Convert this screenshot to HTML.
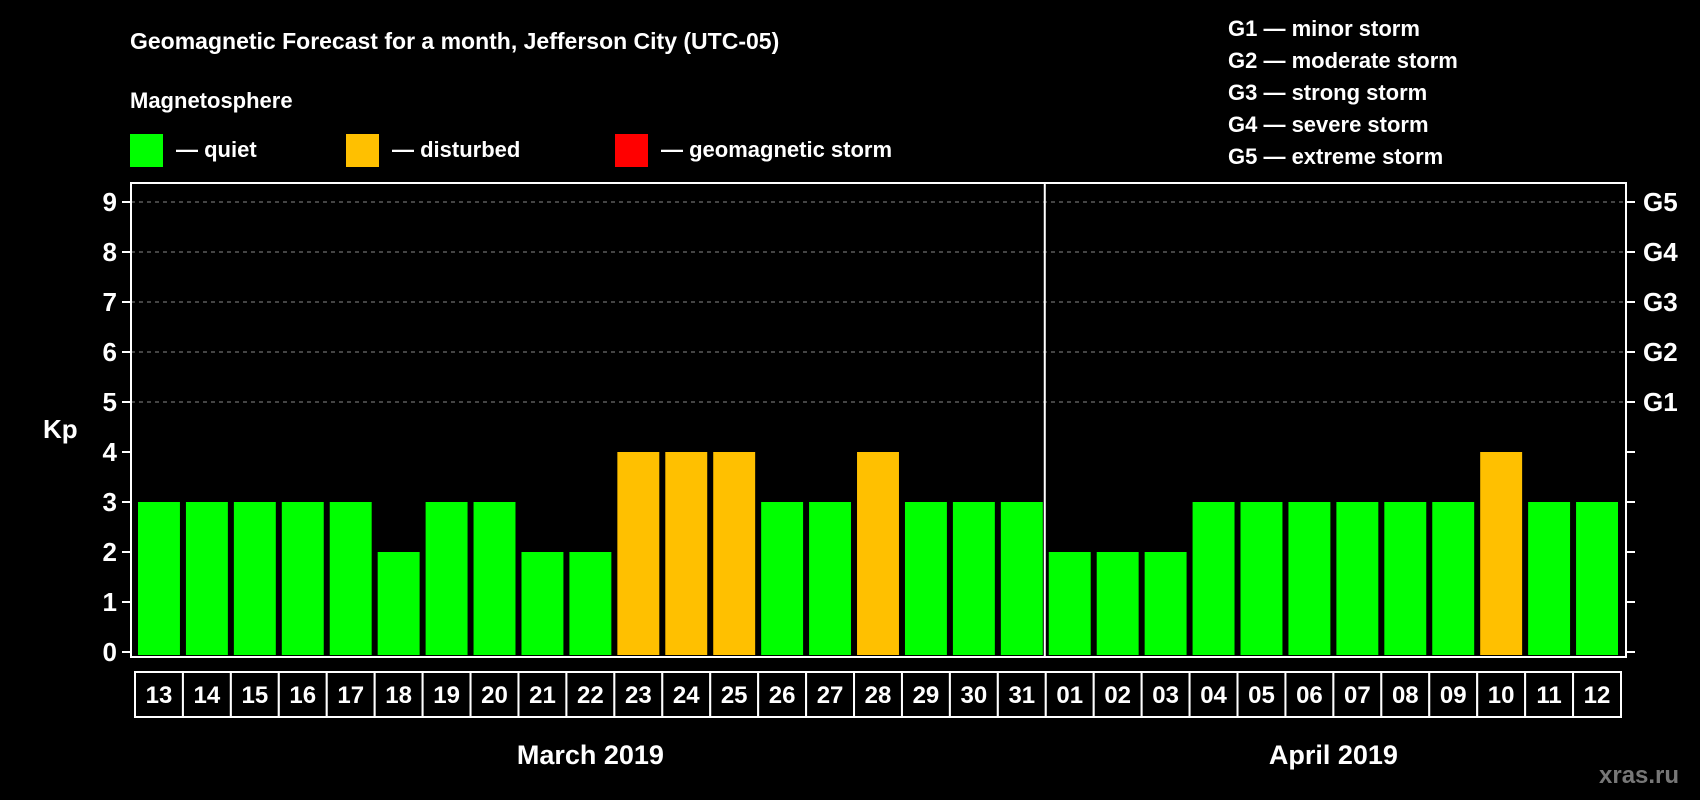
<!DOCTYPE html>
<html><head><meta charset="utf-8"><style>
body{margin:0;background:#000;}
svg{display:block;font-family:"Liberation Sans",Arial,sans-serif;font-weight:bold;}
</style></head><body>
<svg id="c" width="1700" height="800" viewBox="0 0 1700 800">
<rect width="1700" height="800" fill="#000"/>
<text x="130" y="49" fill="#fff" font-size="23">Geomagnetic Forecast for a month, Jefferson City (UTC-05)</text>
<text x="130" y="108" fill="#fff" font-size="22">Magnetosphere</text>
<g><rect x="130" y="134" width="33" height="33" fill="#00ff00"/><text x="176" y="157" fill="#fff" font-size="22">— quiet</text></g>
<g><rect x="346" y="134" width="33" height="33" fill="#ffc000"/><text x="392" y="157" fill="#fff" font-size="22">— disturbed</text></g>
<g><rect x="615" y="134" width="33" height="33" fill="#ff0000"/><text x="661" y="157" fill="#fff" font-size="22">— geomagnetic storm</text></g>
<g fill="#fff" font-size="22">
<text x="1228" y="36">G1 — minor storm</text>
<text x="1228" y="68">G2 — moderate storm</text>
<text x="1228" y="100">G3 — strong storm</text>
<text x="1228" y="132">G4 — severe storm</text>
<text x="1228" y="164">G5 — extreme storm</text>
</g>
<text x="43" y="438" fill="#fff" font-size="26">Kp</text>
<text x="1599" y="783" fill="#777" font-size="24">xras.ru</text>
<g id="plot"></g>
</svg>
<script>
const days = ["13","14","15","16","17","18","19","20","21","22","23","24","25","26","27","28","29","30","31","01","02","03","04","05","06","07","08","09","10","11","12"];
const kp = [3,3,3,3,3,2,3,3,2,2,4,4,4,3,3,4,3,3,3,2,2,2,3,3,3,3,3,3,4,3,3];
const yTicks = [0,1,2,3,4,5,6,7,8,9];
const gLabels = ["G1","G2","G3","G4","G5"];
const gLevels = [5,6,7,8,9];
const months = ["March 2019","April 2019"];
const monthSplit = 19;

const NS="http://www.w3.org/2000/svg";
const g=document.getElementById('plot');
const L=131,R=1626,T=183,B=657,y0=652,unit=50;
const bandX0=135,bandW=(1621-135)/days.length;
const y=v=>y0-v*unit;
const x=i=>bandX0+i*bandW;
function mk(tag,attrs,parent){const e=document.createElementNS(NS,tag);for(const k in attrs)e.setAttribute(k,attrs[k]);(parent||g).appendChild(e);return e;}

// grid
gLevels.forEach(v=>{
  const l=mk('line',{x1:L,x2:R,y1:y(v),y2:y(v),stroke:'#888','stroke-dasharray':'4,4','stroke-width':1});
  
  
});
// bars
kp.forEach((v,i)=>{
  const col=v>=5?'#ff0000':(v>=4?'#ffc000':'#00ff00');
  const r=mk('rect',{x:x(i)+3,y:y(v),width:bandW-6,height:y0-y(v)+3,fill:col});
  
  
});
// frame
const fr=mk('rect',{x:L,y:T,width:R-L,height:B-T,fill:'none',stroke:'#fff','stroke-width':2});


const dv=mk('line',{x1:x(monthSplit)-1,x2:x(monthSplit)-1,y1:T,y2:B,stroke:'#fff','stroke-width':2});


// y ticks
yTicks.forEach(v=>{
  mk('line',{x1:L-9,x2:L,y1:y(v),y2:y(v),stroke:'#fff','stroke-width':2});
  mk('line',{x1:R,x2:R+9,y1:y(v),y2:y(v),stroke:'#fff','stroke-width':2});
  const t=mk('text',{x:L-14,y:y(v)+9,fill:'#fff','font-size':26,'text-anchor':'end'});
  t.textContent=v;
  
  
});
gLabels.forEach((s,i)=>{
  const t=mk('text',{x:R+17,y:y(gLevels[i])+9,fill:'#fff','font-size':26});
  t.textContent=s;
  
  
});
// day boxes
days.forEach((d,i)=>{
  const r=mk('rect',{x:x(i),y:672,width:bandW,height:45,fill:'#000',stroke:'#fff','stroke-width':2});
  
  
  const t=mk('text',{x:x(i)+bandW/2,y:703,fill:'#fff','font-size':24,'text-anchor':'middle'});
  t.textContent=d;
  
  
});
// months
const mx=[(x(0)+x(monthSplit))/2,(x(monthSplit)+x(days.length))/2];
months.forEach((m,i)=>{
  const t=mk('text',{x:mx[i],y:764,fill:'#fff','font-size':27,'text-anchor':'middle'});
  t.textContent=m;
  
  
});
</script>
</body></html>
